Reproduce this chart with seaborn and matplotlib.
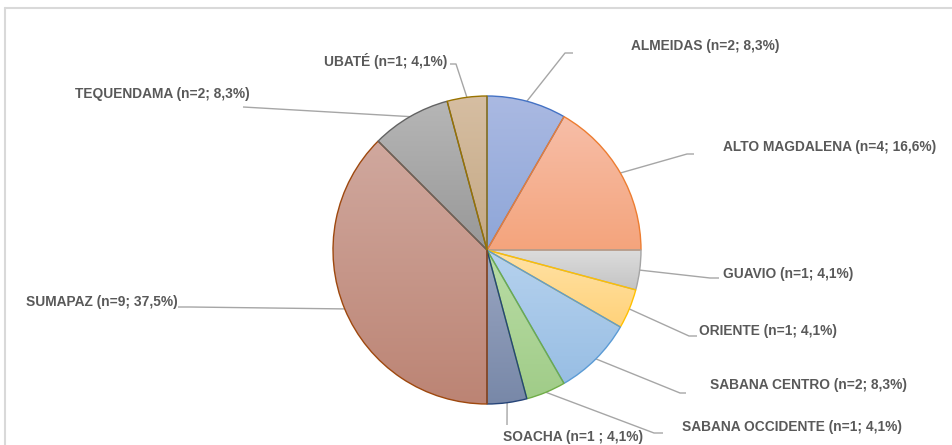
import numpy as np
import matplotlib
matplotlib.use("Agg")
import matplotlib.pyplot as plt
import seaborn as sns
from matplotlib.lines import Line2D
from matplotlib.colors import to_rgb

# ---- data ----
regions = ["ALMEIDAS", "ALTO MAGDALENA", "GUAVIO", "ORIENTE", "SABANA CENTRO",
           "SABANA OCCIDENTE", "SOACHA", "SUMAPAZ", "TEQUENDAMA", "UBATÉ"]
counts = [2, 4, 1, 1, 2, 1, 1, 9, 2, 1]
pct_labels = ["8,3%", "16,6%", "4,1%", "4,1%", "8,3%", "4,1%", "4,1%", "37,5%", "8,3%", "4,1%"]
n_sep = ["; ", "; ", "; ", "; ", "; ", "; ", " ; ", "; ", "; ", "; "]

# ---- style ----
edge_colors = ["#4472C4", "#ED7D31", "#A5A5A5", "#FFC000", "#5B9BD5",
               "#70AD47", "#264478", "#9E480E", "#636363", "#997300"]
top_colors = ["#aab9e2", "#f7bea8", "#dcdcdc", "#ffe2a6", "#b6d2ee",
              "#badda6", "#9aa6c2", "#d0a89e", "#b6b6b6", "#d6bea2"]
bot_colors = ["#8ea6d8", "#f4a47c", "#c4c4c4", "#ffd27a", "#98bee4",
              "#a0cc88", "#7888a8", "#bc8474", "#989898", "#c4a884"]

W, H = 953, 445
CX, CY, R = 487, 250, 154
layout = {
    "ALMEIDAS":         dict(tx=631, ty=46, ha="left", pts=[(565, 53), (573, 53)]),
    "ALTO MAGDALENA":   dict(tx=723, ty=147, ha="left", pts=[(687, 154), (694, 154)]),
    "GUAVIO":           dict(tx=723, ty=274, ha="left", pts=[(710, 278), (719, 278)]),
    "ORIENTE":          dict(tx=699, ty=331, ha="left", pts=[(689, 336), (697, 336)]),
    "SABANA CENTRO":    dict(tx=710, ty=385, ha="left", pts=[(680, 393), (686, 393)]),
    "SABANA OCCIDENTE": dict(tx=682, ty=427, ha="left", pts=[(654, 433), (663, 433)]),
    "SOACHA":           dict(tx=503, ty=437, ha="left", pts=[(507, 425)]),
    "SUMAPAZ":          dict(tx=178, ty=302, ha="right", pts=[(190, 307), (178, 307)]),
    "TEQUENDAMA":       dict(tx=250, ty=94, ha="right", pts=[(243, 107)]),
    "UBATÉ":            dict(tx=447, ty=61, ha="right", pts=[(456, 64), (450, 64)]),
}

def px(x, y):
    return ((x - CX) / R, (CY - y) / R)

sns.set_theme(style="white")
plt.rcParams["font.family"] = ["Liberation Sans", "DejaVu Sans"]

fig = plt.figure(figsize=(W / 100, H / 100), dpi=100)
ax = fig.add_axes([0, 0, 1, 1])
ax.set_axis_off()

wedges, _ = ax.pie(counts, startangle=90, counterclock=False, radius=1.0,
                   colors=bot_colors,
                   wedgeprops=dict(linewidth=1.0, zorder=3))

# gradient fill per wedge
for w, ec, tc, bc in zip(wedges, edge_colors, top_colors, bot_colors):
    th = np.linspace(np.deg2rad(w.theta1), np.deg2rad(w.theta2), 100)
    xs = np.concatenate([[0], np.cos(th)])
    ys = np.concatenate([[0], np.sin(th)])
    n = 200
    t = np.linspace(0, 1, n)[:, None]
    grad = (1 - t) * np.array(to_rgb(tc)) + t * np.array(to_rgb(bc))
    img = ax.imshow(grad[:, None, :], extent=(xs.min(), xs.max(), ys.min(), ys.max()),
                    origin="upper", aspect="auto", zorder=2, interpolation="bilinear")
    img.set_clip_path(w)
    w.set_facecolor("none")
    w.set_edgecolor(ec)

# labels with leader lines
for w, name, c, sep, p in zip(wedges, regions, counts, n_sep, pct_labels):
    L = layout[name]
    mid = np.deg2rad((w.theta1 + w.theta2) / 2)
    start = (np.cos(mid), np.sin(mid))
    pts = [start] + [px(*q) for q in L["pts"]]
    xs, ys = zip(*pts)
    ax.plot(xs, ys, color="#a6a6a6", lw=1.0, zorder=1, solid_capstyle="butt")
    tx, ty = px(L["tx"], L["ty"])
    ax.text(tx, ty, f"{name} (n={c}{sep}{p})", ha=L["ha"], va="center",
            fontsize=9.9, fontweight="bold", color="#595959", zorder=4)

x0, y0 = px(0, H)
x1, y1 = px(W, 0)
ax.set_xlim(x0, x1)
ax.set_ylim(y0, y1)
ax.set_aspect("auto")

fig.add_artist(Line2D([5.5 / W, 5.5 / W], [0, 1 - 8 / H], transform=fig.transFigure,
                      color="#d9d9d9", lw=1.5))
fig.add_artist(Line2D([5.5 / W, 1], [1 - 8 / H, 1 - 8 / H], transform=fig.transFigure,
                      color="#d9d9d9", lw=1.5))

fig.savefig("out.png", dpi=100)
